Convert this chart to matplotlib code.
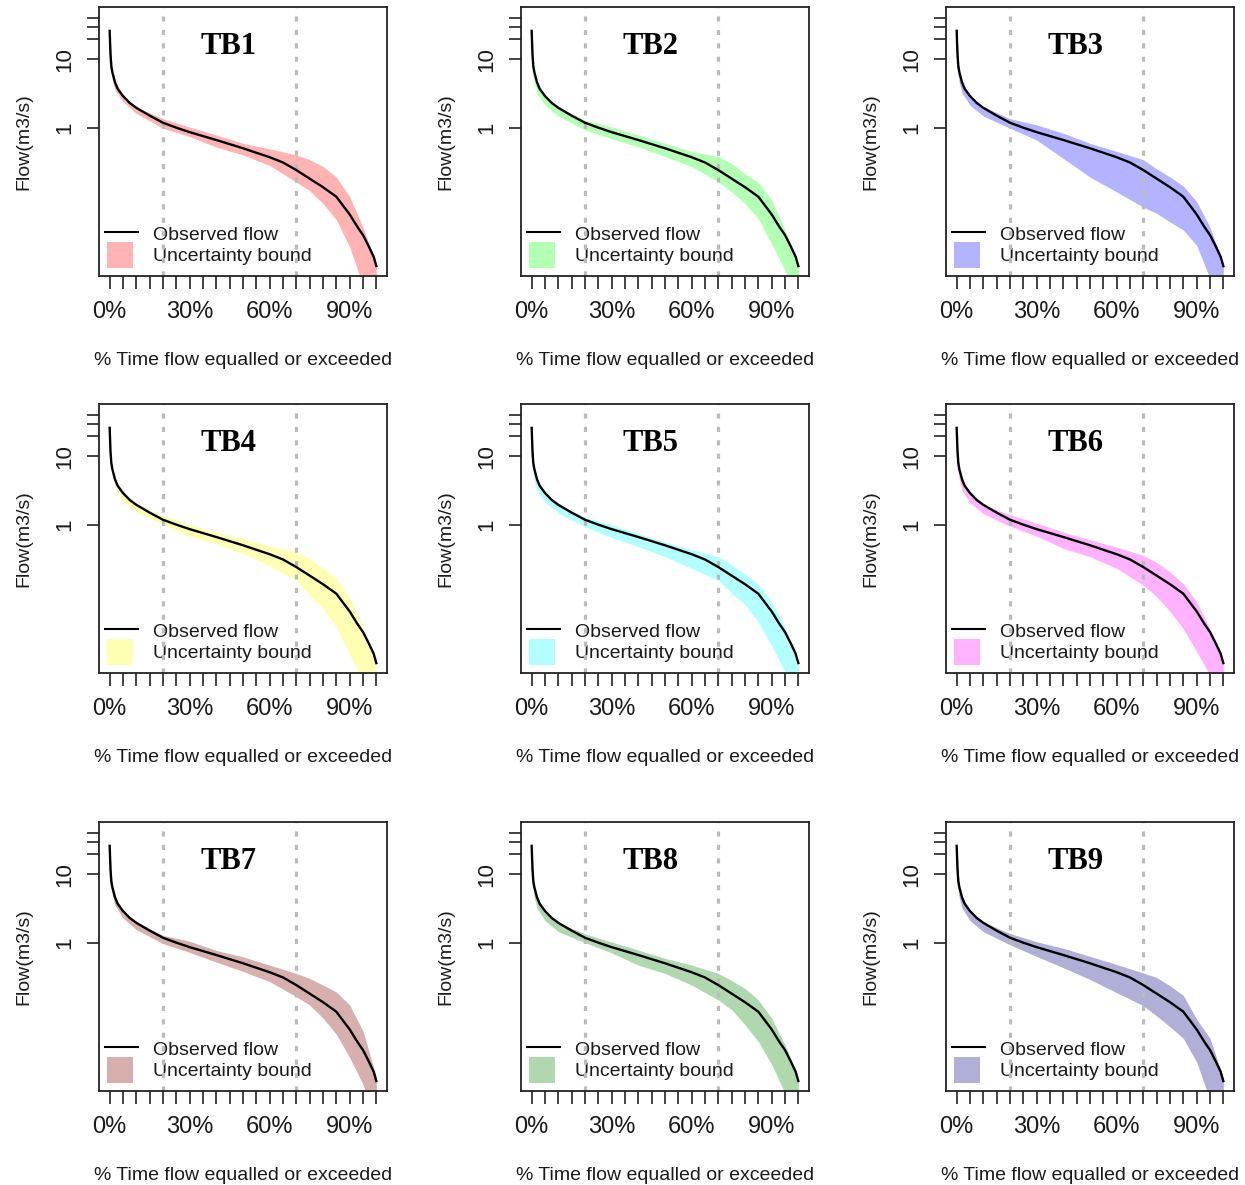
import matplotlib
matplotlib.use("Agg")
import matplotlib.pyplot as plt
import matplotlib.patches as mpatches

plt.rcParams['font.family'] = ['Liberation Sans', 'DejaVu Sans']

# % time flow equalled or exceeded, observed flow (m3/s)
obs_pct = [0, 0.3, 0.6, 1, 2, 3, 5, 7.5, 10, 15, 20, 25, 30, 40, 50, 60, 65, 70,
           75, 80, 85, 90, 93, 95, 97, 99, 100]
obs_flow = [26, 12, 8, 6.5, 4.6, 3.7, 2.9, 2.3, 1.95, 1.5, 1.18, 1.0, 0.86, 0.66,
            0.50, 0.37, 0.31, 0.24, 0.18, 0.135, 0.098, 0.054, 0.035, 0.027,
            0.019, 0.013, 0.0095]

# uncertainty bounds, read at these percentages
bnd_pct = [0, 1, 2, 5, 10, 20, 30, 40, 50, 60, 70, 75, 80, 85, 90, 95, 100]

tb1_upper = [26, 6.6, 4.7, 2.95, 2.0, 1.35, 1.02, 0.78, 0.59, 0.49, 0.40, 0.34, 0.27, 0.19, 0.098, 0.035, 0.010]
tb1_lower = [7.9, 5.0, 3.55, 2.4, 1.62, 0.98, 0.74, 0.52, 0.40, 0.28, 0.16, 0.12, 0.078, 0.045, 0.018, 0.005, 0.0025]

tb2_upper = [26, 6.6, 4.7, 2.9, 1.95, 1.29, 1.03, 0.78, 0.59, 0.45, 0.38, 0.30, 0.21, 0.16, 0.087, 0.032, 0.010]
tb2_lower = [7.9, 4.5, 3.2, 2.14, 1.48, 0.93, 0.69, 0.525, 0.38, 0.27, 0.162, 0.115, 0.078, 0.047, 0.020, 0.0083, 0.0025]

tb3_upper = [26, 6.6, 4.7, 2.95, 2.04, 1.35, 1.1, 0.83, 0.59, 0.45, 0.34, 0.25, 0.19, 0.14, 0.083, 0.035, 0.010]
tb3_lower = [7.9, 4.5, 3.2, 2.14, 1.48, 0.98, 0.66, 0.355, 0.19, 0.115, 0.069, 0.056, 0.042, 0.032, 0.019, 0.0063, 0.0025]

tb4_upper = [26, 6.6, 4.7, 2.9, 2.0, 1.35, 1.0, 0.78, 0.63, 0.49, 0.40, 0.32, 0.23, 0.166, 0.085, 0.032, 0.010]
tb4_lower = [10, 5.0, 3.55, 2.2, 1.55, 1.0, 0.68, 0.525, 0.38, 0.25, 0.155, 0.093, 0.060, 0.032, 0.0126, 0.005, 0.0025]

tb5_upper = [26, 6.6, 4.7, 2.9, 1.95, 1.29, 1.0, 0.74, 0.56, 0.43, 0.34, 0.26, 0.19, 0.135, 0.074, 0.032, 0.010]
tb5_lower = [7.9, 4.5, 3.2, 2.14, 1.48, 0.93, 0.65, 0.48, 0.34, 0.23, 0.155, 0.10, 0.068, 0.038, 0.017, 0.0071, 0.0025]

tb6_upper = [26, 6.6, 4.7, 2.9, 1.95, 1.4, 1.05, 0.78, 0.60, 0.47, 0.355, 0.28, 0.204, 0.138, 0.074, 0.030, 0.010]
tb6_lower = [7.9, 4.5, 3.2, 2.1, 1.45, 0.95, 0.68, 0.45, 0.34, 0.23, 0.13, 0.089, 0.054, 0.030, 0.014, 0.0063, 0.0025]

tb7_upper = [26, 6.6, 4.7, 2.95, 2.0, 1.28, 1.05, 0.77, 0.62, 0.47, 0.355, 0.30, 0.24, 0.19, 0.123, 0.051, 0.011]
tb7_lower = [7.9, 5.0, 3.55, 2.3, 1.55, 0.97, 0.72, 0.52, 0.38, 0.27, 0.162, 0.123, 0.079, 0.046, 0.021, 0.0085, 0.0025]

tb8_upper = [26, 6.6, 4.7, 2.9, 1.95, 1.35, 1.02, 0.78, 0.59, 0.47, 0.355, 0.28, 0.214, 0.145, 0.079, 0.032, 0.0105]
tb8_lower = [7.9, 4.5, 3.2, 2.1, 1.45, 1.0, 0.71, 0.47, 0.355, 0.24, 0.145, 0.105, 0.063, 0.036, 0.0166, 0.0063, 0.0025]

tb9_upper = [26, 6.6, 4.7, 2.95, 2.0, 1.36, 1.03, 0.83, 0.63, 0.48, 0.36, 0.31, 0.234, 0.17, 0.076, 0.04, 0.0105]
tb9_lower = [7.9, 4.5, 3.2, 2.1, 1.45, 0.93, 0.63, 0.43, 0.29, 0.186, 0.12, 0.085, 0.059, 0.04, 0.018, 0.005, 0.0025]

names = ["TB1", "TB2", "TB3", "TB4", "TB5", "TB6", "TB7", "TB8", "TB9"]
uppers = [tb1_upper, tb2_upper, tb3_upper, tb4_upper, tb5_upper, tb6_upper,
          tb7_upper, tb8_upper, tb9_upper]
lowers = [tb1_lower, tb2_lower, tb3_lower, tb4_lower, tb5_lower, tb6_lower,
          tb7_lower, tb8_lower, tb9_lower]
colors = ["#FFB3B3", "#B3FFB3", "#B3B3FF", "#FFFFB3", "#B3FFFF", "#FFB3FF",
          "#D8AFAF", "#AFD8AF", "#AFAFD8"]

split_pct = [20, 70]
xticks = list(range(0, 101, 5))
xtick_labels = [f"{t}%" if t in (0, 30, 60, 90) else "" for t in xticks]
yticks = [1, 10, 20, 30, 40]
ytick_labels = ["1", "10", "", "", ""]

W, H = 1245, 1185
col_left = [99, 521, 946]
row_top = [7, 404, 822]
ax_w, ax_h = 288, 269
txt = "#1a1a1a"

fig = plt.figure(figsize=(W / 100, H / 100), dpi=100)

for i in range(9):
    r, c = divmod(i, 3)
    ax = fig.add_axes([col_left[c] / W, (H - row_top[r] - ax_h) / H, ax_w / W, ax_h / H])

    ax.fill_between(bnd_pct, lowers[i], uppers[i], color=colors[i], lw=0, zorder=1)
    for p in split_pct:
        ax.axvline(p, color="#bbbbbb", lw=2.3, linestyle=(0, (1.6, 2.6)), zorder=2)
    ax.plot(obs_pct, obs_flow, color="black", lw=1.7, zorder=3)

    ax.set_yscale("log")
    ax.set_xlim(-4, 104)
    ax.set_ylim(0.0068, 58)

    ax.set_xticks(xticks)
    ax.set_xticklabels(xtick_labels, fontsize=17, color=txt)
    ax.set_yticks(yticks)
    ax.set_yticklabels(ytick_labels, fontsize=16, rotation=90, va="center", color=txt)
    ax.yaxis.set_minor_locator(matplotlib.ticker.NullLocator())
    ax.tick_params(axis="x", length=9, width=1.2, pad=9, color="#222222")
    ax.tick_params(axis="y", length=9, width=1.2, pad=8, color="#222222")
    for s in ax.spines.values():
        s.set_linewidth(1.3)
        s.set_color("#222222")

    ax.set_xlabel("% Time flow equalled or exceeded", fontsize=14, labelpad=21, color=txt)
    ax.set_ylabel("Flow(m3/s)", fontsize=14, labelpad=16, color=txt)

    ax.text(0.45, 0.855, names[i], transform=ax.transAxes, ha="center", va="center",
            fontsize=22, fontweight="bold", family="Liberation Serif", zorder=4)

    # legend, drawn in the lower left corner as in the original
    ax.plot([0.021, 0.135], [0.164, 0.164], transform=ax.transAxes, color="black",
            lw=1.5, zorder=1.5)
    ax.add_patch(mpatches.Rectangle((0.028, 0.030), 0.090, 0.097, transform=ax.transAxes,
                                    color=colors[i], lw=0, zorder=1.5))
    ax.text(0.188, 0.152, "Observed flow", transform=ax.transAxes, fontsize=14,
            va="center", ha="left", color=txt, zorder=1.5)
    ax.text(0.188, 0.074, "Uncertainty bound", transform=ax.transAxes, fontsize=14,
            va="center", ha="left", color=txt, zorder=1.5)

fig.savefig("out.png", dpi=100)
